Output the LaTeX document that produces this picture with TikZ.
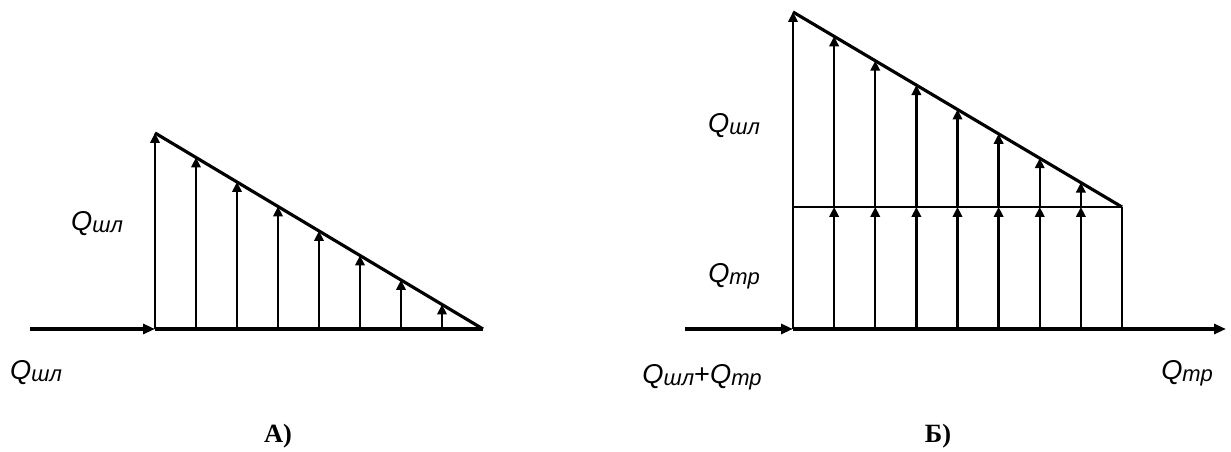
\documentclass[tikz,border=0pt]{standalone}
\usepackage{fontspec}
\setmainfont{Liberation Serif}
\newfontfamily\qfont{Liberation Sans}
\usetikzlibrary{arrows.meta, calc}

\newcommand{\Qsub}[1]{{\qfont\itshape\fontsize{15.5}{15.5}\selectfont Q\raisebox{-1pt}{\fontsize{12.5}{12.5}\selectfont #1}}}

\begin{document}
\begin{tikzpicture}[
    x=0.02cm, y=-0.02cm,
    flow/.style={-{Triangle[length=2.4mm, width=2mm]}, line width=1.9pt},
    vec/.style={-{Triangle[length=2mm, width=1.9mm]}, line width=1.3pt},
    edge/.style={line width=#1},
    edge/.default=1.8pt,
    qlabel/.style={inner sep=0pt},
    tag/.style={font=\bfseries\fontsize{15}{15}\selectfont, inner sep=0pt}
]
    \useasboundingbox (0,0) rectangle (1231,452);

    % Scheme A: triangle only
    \coordinate (aS) at (30,329);
    \coordinate (aO) at (155,329);
    \coordinate (aT) at (155,133);
    \coordinate (aE) at (483,329);
    \draw[flow] (aS) -- (aO);
    \draw[edge=1.9pt] (aO) -- (aE);
    \draw[edge] (aT) -- (aE);
    \foreach \i in {0,...,7}
        \draw[vec] ($(aO)!\i/8!(aE)$) -- ($(aT)!\i/8!(aE)$);
    \node[qlabel] (qa1) at (97,224) {\Qsub{шл}};
    \node[qlabel] (qa2) at (36,373) {\Qsub{шл}};
    \node[tag] (ta) at (278,436) {А)};

    % Scheme B: triangle on top of rectangle
    \coordinate (bS) at (685,329);
    \coordinate (bO) at (793,329);
    \coordinate (bM) at (793,207);
    \coordinate (bT) at (793,12);
    \coordinate (bR) at (1122,207);
    \coordinate (bF) at (1122,329);
    \coordinate (bE) at (1226,329);
    \draw[flow] (bS) -- (bO);
    \draw[flow] (bO) -- (bE);
    \draw[edge] (bT) -- (bR);
    \draw[edge=1.3pt] (bM) -- (bR);
    \draw[edge=1.3pt] (bR) -- (bF);
    \draw[vec] (bO) -- (bT);
    \foreach \i in {1,...,7} {
        \draw[vec] ($(bO)!\i/8!(bF)$) -- ($(bM)!\i/8!(bR)$);
        \draw[vec] ($(bM)!\i/8!(bR)$) -- ($(bT)!\i/8!(bR)$);
    }
    \node[qlabel] (qb1) at (734,126) {\Qsub{шл}};
    \node[qlabel] (qb2) at (734,276) {\Qsub{тр}};
    \node[qlabel] (qb3) at (702,377) {\Qsub{шл}{\qfont\fontsize{15.5}{15.5}\selectfont+}\Qsub{тр}};
    \node[qlabel] (qb4) at (1187,373) {\Qsub{тр}};
    \node[tag] (tb) at (938,436) {Б)};
\end{tikzpicture}
\end{document}
